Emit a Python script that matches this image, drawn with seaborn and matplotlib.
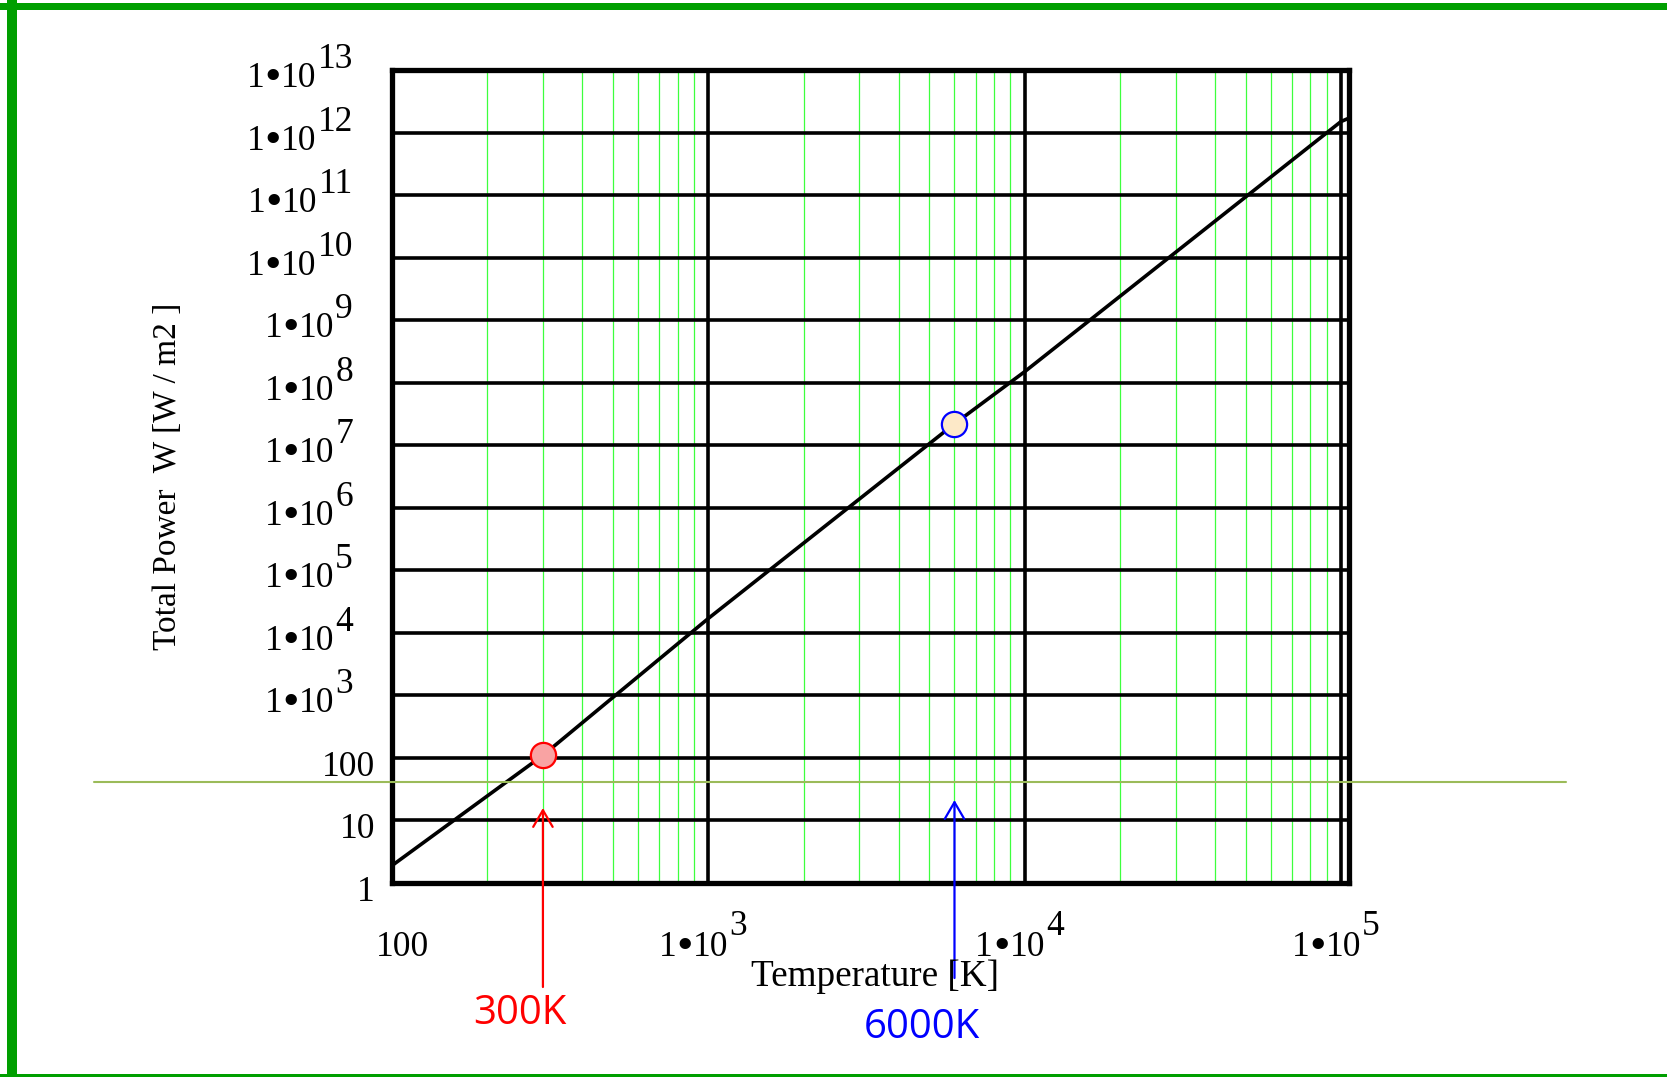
import matplotlib
matplotlib.use("Agg")
import matplotlib.pyplot as plt
import seaborn as sns
from matplotlib.lines import Line2D
from matplotlib.patches import Rectangle

# Total radiated power of a black body versus temperature
temperature_k = [100, 300, 1000, 6000, 10000, 100000, 106000]
total_power = [1.9, 110, 1.7e4, 2.2e7, 1.5e8, 1.5e12, 1.7e12]

# Highlighted temperatures
marker_temps = [300, 6000]
marker_power = [110, 2.2e7]
marker_labels = ["300K", "6000K"]

# Decades shown on each axis
x_decades = [2, 3, 4, 5]
y_decades = list(range(0, 14))
x_minor_factors = [2, 3, 4, 5, 6, 7, 8, 9]

W, H = 1667, 1077
sns.set_theme(style="white")
plt.rcParams["font.family"] = ["Liberation Serif", "DejaVu Sans"]

fig = plt.figure(figsize=(W / 100, H / 100), dpi=100)
fig.patch.set_facecolor("white")

# plot box in pixels: left 392, right 1349, top 70, bottom 883
ax = fig.add_axes([392 / W, 1 - 883 / H, (1349 - 392) / W, (883 - 70) / H])
ax.set_xscale("log")
ax.set_yscale("log")
ax.set_xlim(100, 1e5 * 10 ** (8 / 316.3))
ax.set_ylim(1, 1e13)
ax.set_facecolor("white")

# grid: green minor verticals, black decade lines
for d in x_decades[:-1]:
    for f in x_minor_factors:
        ax.axvline(f * 10 ** d, color="#3dff3d", lw=0.9, zorder=1)
for d in x_decades:
    ax.axvline(10 ** d, color="black", lw=2.6, zorder=2)
for d in y_decades:
    ax.axhline(10 ** d, color="black", lw=2.6, zorder=2)

for sp in ax.spines.values():
    sp.set_color("black")
    sp.set_linewidth(3.8)
    sp.set_zorder(6)

ax.tick_params(which="both", length=0, labelbottom=False, labelleft=False)
ax.set_xticks([])
ax.set_yticks([])
ax.minorticks_off()

# curve
sns.lineplot(x=temperature_k, y=total_power, ax=ax, color="black", lw=2.6,
             zorder=4, legend=False)

# highlighted points
sns.scatterplot(x=marker_temps[:1], y=marker_power[:1], ax=ax, s=330,
                color="#f9a3a3", edgecolor="#ff0000", linewidth=1.6, zorder=7,
                legend=False, clip_on=False)
sns.scatterplot(x=marker_temps[1:], y=marker_power[1:], ax=ax, s=330,
                color="#fde9c8", edgecolor="#0000ff", linewidth=1.6, zorder=7,
                legend=False, clip_on=False)

tick_fs = 25.5
dot_fs = 34


def note(text, xy, coords, offset, ha="right", size=tick_fs):
    return ax.annotate(text, xy=xy, xycoords=coords, xytext=offset,
                       textcoords="offset pixels", ha=ha, va="baseline",
                       fontsize=size, color="black", annotation_clip=False)


def sci_label(exp, xy, coords, ycoord_name, y_val, sup_offset, base_dy):
    """Right-aligned label of the form 1•10^exp, built from the exponent leftwards."""
    sup = note(str(exp), xy, coords, sup_offset)
    ten = note("10", (0, y_val), (sup, ycoord_name), (-1, base_dy))
    dot = note("•", (0, y_val), (ten, ycoord_name), (0, base_dy - 3), size=dot_fs)
    note("1", (0, y_val), (dot, ycoord_name), (0, base_dy))


# y tick labels
for e in y_decades:
    if e < 3:
        note(str(10 ** e), (0, 10 ** e), ("axes fraction", "data"), (-17, -18))
    else:
        sci_label(e, (0, 10 ** e), ("axes fraction", "data"), "data", 10 ** e,
                  (-39, 2), -17)

# x tick labels, right-aligned a little past each decade
for e in x_decades:
    if e < 3:
        note(str(10 ** e), (10 ** e, 0), ("data", "axes fraction"), (37, -73))
    else:
        sci_label(e, (10 ** e, 0), ("data", "axes fraction"), "axes fraction", 0,
                  (39, -52), -73)

# axis titles
fig.text(168 / W, 1 - 476 / H, "Total Power  W [W / m2 ]", rotation=90,
         ha="center", va="center", fontsize=24, color="black")
fig.text(875 / W, 1 - 986 / H, "Temperature [K]", ha="center", va="baseline",
         fontsize=26.7, color="black")

# arrows and captions below the plot
callouts = [
    (marker_temps[0], marker_labels[0], "#ff0000", 808, 987, 1024, -23),
    (marker_temps[1], marker_labels[1], "#0000ff", 800, 978, 1038, -33),
]
for t, lab, col, y_tip, y_tail, y_txt, dx in callouts:
    ax.annotate("", xy=(t, H - y_tip), xycoords=("data", "figure pixels"),
                xytext=(t, H - y_tail), textcoords=("data", "figure pixels"),
                arrowprops=dict(arrowstyle="->,head_length=0.6,head_width=0.35",
                                mutation_scale=20, lw=1.6, color=col,
                                shrinkA=0, shrinkB=0),
                annotation_clip=False, zorder=8)
    ax.annotate(lab, xy=(t, H - y_txt), xycoords=("data", "figure pixels"),
                xytext=(dx, 0), textcoords="offset pixels",
                ha="center", va="baseline", fontsize=29, color=col,
                family="Open Sans", annotation_clip=False)

# olive rule across the slide
fig.add_artist(Line2D([94 / W, 1566 / W], [1 - 782 / H, 1 - 782 / H],
                      transform=fig.transFigure, color="#9bbb59", lw=1.5, zorder=10))

# green slide frame
frame_green = "#009f00"
fig.add_artist(Rectangle((7 / W, 0), 9.5 / W, 1, transform=fig.transFigure,
                         color=frame_green, lw=0, zorder=20))
fig.add_artist(Rectangle((0, 1 - 10 / H), 1, 7 / H, transform=fig.transFigure,
                         color=frame_green, lw=0, zorder=20))
fig.add_artist(Rectangle((0, 0), 1, 3 / H, transform=fig.transFigure,
                         color=frame_green, lw=0, zorder=20))

fig.savefig("out.png", dpi=100)
